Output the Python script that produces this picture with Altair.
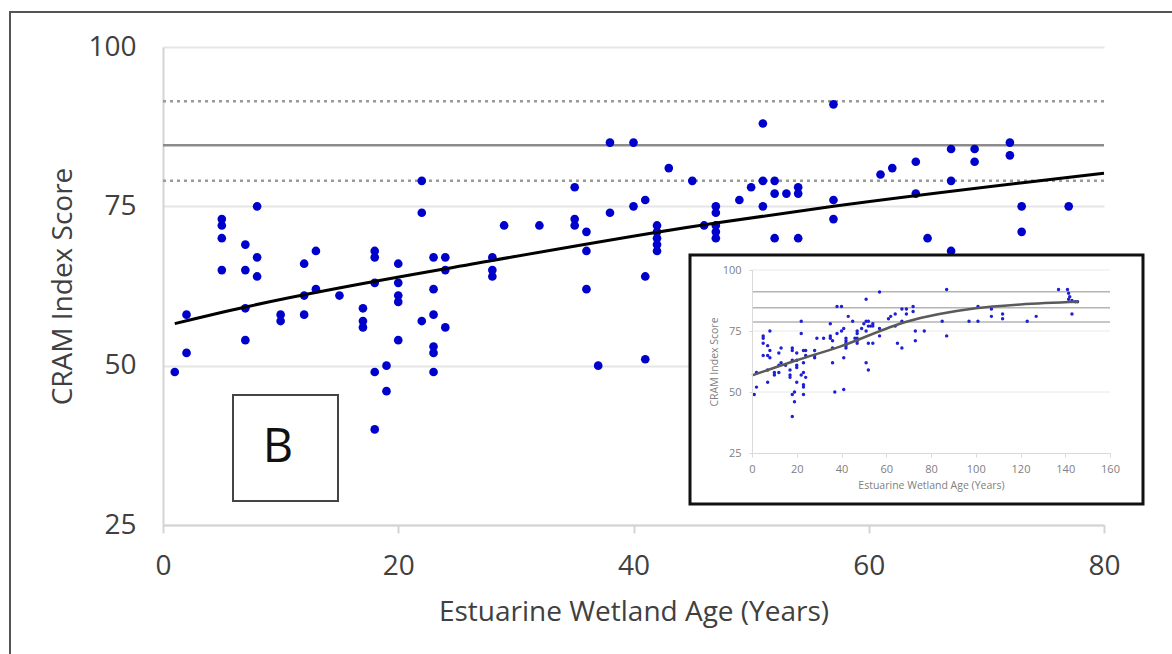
import altair as alt
import pandas as pd

# ---------------- data ----------------
main_age = [1, 2, 2, 5, 5, 5, 5, 7, 7, 7, 7, 8, 8, 8, 10, 10, 12, 12, 12, 13, 13, 15,
            17, 17, 17, 18, 18, 18, 18, 18, 19, 19, 20, 20, 20, 20, 20, 22, 22, 22,
            23, 23, 23, 23, 23, 23, 24, 24, 24, 28, 28, 28, 29, 32, 35, 35, 35,
            36, 36, 36, 37, 38, 38, 40, 40, 41, 41, 41, 42, 42, 42, 42, 42, 43, 45,
            46, 47, 47, 47, 47, 47, 49, 50, 51, 51, 51, 51, 52, 52, 52, 52, 53,
            54, 54, 54, 57, 57, 57, 61, 62, 64, 64, 65, 67, 67, 67, 69, 69, 72, 72,
            73, 73, 77]
main_score = [49, 58, 52, 73, 72, 70, 65, 69, 65, 59, 54, 75, 67, 64, 58, 57, 66, 61, 58,
              68, 62, 61, 59, 57, 56, 68, 67, 63, 49, 40, 50, 46, 66, 63, 61, 60, 54,
              79, 74, 57, 67, 62, 58, 53, 52, 49, 67, 65, 56, 67, 65, 64, 72, 72, 78,
              73, 72, 71, 68, 62, 50, 85, 74, 85, 75, 76, 64, 51, 72, 71, 70, 69, 68,
              81, 79, 72, 75, 74, 72, 71, 70, 76, 78, 88, 79, 75, 62, 79, 77, 70, 59,
              77, 78, 77, 70, 91, 76, 73, 80, 81, 82, 77, 70, 84, 79, 68, 84, 82, 85,
              83, 75, 71, 75]

old_age = [85, 87, 87, 97, 101, 101, 107, 107, 112, 112, 123, 127, 137, 141, 141.5,
           142, 141.5, 143, 144.5, 145.5, 143]
old_score = [79, 92, 73, 79, 85, 79, 84, 81, 82, 80, 79, 81, 92, 92, 90.5, 89, 88,
             87.5, 87, 87, 82]

dashed_levels = [91.5, 79.0]
solid_levels = [84.6]

trend_age = [1, 7, 28, 47, 57, 80]
trend_score = [56.6, 59.2, 66.5, 72.4, 75.0, 80.2]

inset_grid_levels = [50, 75, 100]
inset_ref_levels = [91.1, 84.5, 78.7]
inset_trend_age = [0, 20, 39, 69, 100, 120, 146]
inset_trend_score = [56.8, 63.0, 68.5, 78.8, 84.3, 85.9, 87.0]

main_x_ticks = [0, 20, 40, 60, 80]
main_y_ticks = [25, 50, 75, 100]
inset_x_ticks = [0, 20, 40, 60, 80, 100, 120, 140, 160]
inset_y_ticks = [25, 50, 75, 100]

panel_label = "B"
x_title = "Estuarine Wetland Age (Years)"
y_title = "CRAM Index Score"

# ---------------- tables ----------------
main_df = pd.DataFrame({"age": main_age, "score": main_score})
inset_df = pd.DataFrame({"age": main_age + old_age, "score": main_score + old_score})
trend_df = pd.DataFrame({"age": trend_age, "score": trend_score})
inset_trend_df = pd.DataFrame({"age": inset_trend_age, "score": inset_trend_score})
dashed_df = pd.DataFrame({"v": dashed_levels})
solid_df = pd.DataFrame({"v": solid_levels})
igrid_df = pd.DataFrame({"v": inset_grid_levels})
iref_df = pd.DataFrame({"v": inset_ref_levels})
one = alt.Data(values=[{}])

FONT = "Open Sans"
TXT = "#404040"
GREY = "#808080"
W, H = 941, 478


def mx():
    return alt.Scale(domain=[0, 80], nice=False, zero=False)


def my():
    return alt.Scale(domain=[25, 100], nice=False, zero=False)


def ix():
    return alt.Scale(domain=[0, 160], range=[589, 947], nice=False, zero=False)


def iy():
    return alt.Scale(domain=[25, 100], range=[406, 223], nice=False, zero=False)


# ---------------- main panel ----------------
frame = alt.Chart(one).mark_rect(fill="white", fillOpacity=0, stroke="#555555",
                                 strokeWidth=2).encode(
    x=alt.value(-153), x2=alt.value(1040), y=alt.value(-35), y2=alt.value(650))

dashed = alt.Chart(dashed_df).mark_rule(color="#9a9a9a", strokeWidth=2.5,
                                        strokeDash=[3, 4]).encode(
    y=alt.Y("v:Q", scale=my(), axis=None))

solid = alt.Chart(solid_df).mark_rule(color="#8c8c8c", strokeWidth=2.5).encode(
    y=alt.Y("v:Q", scale=my(), axis=None))

main_points = alt.Chart(main_df).mark_circle(size=75, color="#0000cc", opacity=1).encode(
    x=alt.X("age:Q", scale=mx(), axis=alt.Axis(
        values=main_x_ticks, title=x_title, grid=False, labelFlush=False,
        domainColor="#d4d4d4", domainWidth=2, tickColor="#d4d4d4", tickWidth=2,
        tickSize=8, labelPadding=19, labelFontSize=28, labelColor=TXT,
        labelFont=FONT, titleFont=FONT, titleFontSize=28, titleColor=TXT,
        titleFontWeight="normal", titlePadding=18, orient="bottom")),
    y=alt.Y("score:Q", scale=my(), axis=alt.Axis(
        values=main_y_ticks, title=y_title, grid=True, gridColor="#e6e6e6",
        gridWidth=2, ticks=False, domainColor="#d4d4d4", domainWidth=2,
        labelPadding=27, labelFontSize=28, labelColor=TXT, labelFont=FONT,
        titleFont=FONT, titleFontSize=28, titleColor=TXT,
        titleFontWeight="normal", titlePadding=10, orient="left")),
)

trend = alt.Chart(trend_df).mark_line(color="#000000", strokeWidth=3,
                                      interpolate="monotone").encode(
    x=alt.X("age:Q", scale=mx(), axis=None),
    y=alt.Y("score:Q", scale=my(), axis=None))

bbox = alt.Chart(one).mark_rect(fill="white", fillOpacity=0, stroke="#444444",
                                strokeWidth=2).encode(
    x=alt.value(70), x2=alt.value(175), y=alt.value(348), y2=alt.value(454))

btext = alt.Chart(one).mark_text(text=panel_label, font=FONT, fontSize=47,
                                 color="#111111", align="center",
                                 baseline="middle").encode(
    x=alt.value(115), y=alt.value(401))

# ---------------- inset ----------------
inset_box = alt.Chart(one).mark_rect(fill="white", stroke="#111111",
                                     strokeWidth=3).encode(
    x=alt.value(527), x2=alt.value(980), y=alt.value(208), y2=alt.value(457))

inset_grid = alt.Chart(igrid_df).mark_rule(color="#e8e8e8", strokeWidth=1).encode(
    x=alt.XDatum(0, scale=ix(), axis=None), x2=alt.X2Datum(160),
    y=alt.Y("v:Q", scale=iy(), axis=None))

inset_ref = alt.Chart(iref_df).mark_rule(color="#b4b4b4", strokeWidth=1.5).encode(
    x=alt.XDatum(0, scale=ix(), axis=None), x2=alt.X2Datum(160),
    y=alt.Y("v:Q", scale=iy(), axis=None))

inset_points = alt.Chart(inset_df).mark_circle(size=12, color="#1f1fd6", opacity=1).encode(
    x=alt.X("age:Q", scale=ix(), axis=alt.Axis(
        orient="bottom", offset=-72, values=inset_x_ticks, title=x_title,
        grid=False, labelFlush=False, domainColor="#d9d9d9", tickColor="#d9d9d9",
        tickSize=4, labelPadding=6, labelFontSize=11, labelColor=GREY,
        labelFont=FONT, titleFont=FONT, titleFontSize=10.5, titleColor=GREY,
        titleFontWeight="normal", titlePadding=6, zindex=1)),
    y=alt.Y("score:Q", scale=iy(), axis=alt.Axis(
        orient="left", offset=-589, values=inset_y_ticks, title=y_title,
        grid=False, domainColor="#d9d9d9", tickColor="#d9d9d9", tickSize=3,
        labelPadding=8, labelFontSize=11, labelColor=GREY, labelFont=FONT,
        titleFont=FONT, titleFontSize=10.5, titleColor=GREY,
        titleFontWeight="normal", titlePadding=3, zindex=1)),
)

inset_trend = alt.Chart(inset_trend_df).mark_line(color="#5a5a5a", strokeWidth=2.5,
                                                  interpolate="monotone").encode(
    x=alt.X("age:Q", scale=ix(), axis=None),
    y=alt.Y("score:Q", scale=iy(), axis=None))

chart = alt.layer(
    frame, dashed, solid, main_points, trend, bbox, btext,
    inset_box, inset_grid, inset_ref, inset_points, inset_trend,
).resolve_scale(
    x="independent", y="independent"
).properties(
    width=W, height=H,
    padding={"left": 163, "top": 47, "right": 68, "bottom": 129},
    autosize=alt.AutoSizeParams(type="none"),
    background="white",
).configure(font=FONT, view=alt.ViewConfig(strokeWidth=0))

chart.save("out.html", embed_options={"renderer": "svg", "actions": False})
